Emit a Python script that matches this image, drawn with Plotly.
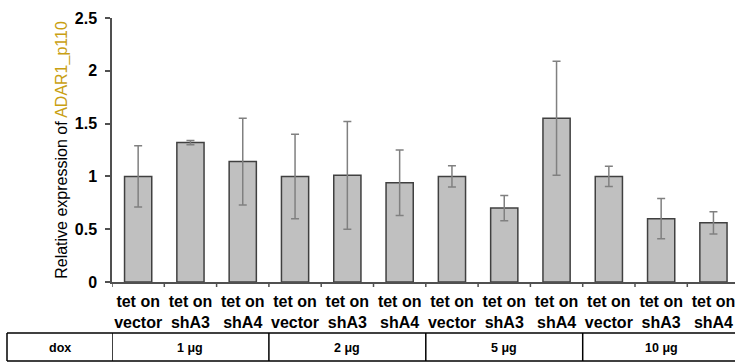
import plotly.graph_objects as go

categories = ["tet on<br>vector", "tet on<br>shA3", "tet on<br>shA4"] * 4
values = [1.00, 1.32, 1.14, 1.00, 1.01, 0.94, 1.00, 0.70, 1.55, 1.00, 0.60, 0.56]
errors = [0.29, 0.02, 0.41, 0.40, 0.51, 0.31, 0.10, 0.12, 0.54, 0.095, 0.19, 0.105]
dox_labels = ["1 μg", "2 μg", "5 μg", "10 μg"]
y_ticks = [0, 0.5, 1, 1.5, 2, 2.5]

W, H = 735, 363
L, T, B = 112, 18, 81
plot_w = W - L
plot_h = H - T - B
cat_px = 52.3
x_end = -0.5 + plot_w / cat_px

def py(pix):
    return (H - B - pix) / plot_h

fig = go.Figure()
fig.add_trace(go.Bar(
    x=list(range(12)), y=values,
    width=0.52,
    marker=dict(color="#c0c0c0", line=dict(color="#404040", width=1.5)),
    error_y=dict(type="data", array=errors, visible=True, color="#808080", thickness=1.5, width=4),
))

fig.update_layout(
    width=W, height=H,
    margin=dict(l=L, r=0, t=T, b=B),
    plot_bgcolor="white", paper_bgcolor="white",
    showlegend=False,
    font=dict(family="Liberation Sans, Arial", color="black"),
    xaxis=dict(
        range=[-0.5, x_end], tickmode="array", tickvals=list(range(12)), ticktext=categories,
        showline=True, linecolor="#505050", linewidth=1.5, ticks="", showgrid=False, zeroline=False,
        ticklabelstandoff=4, ticklabeloverflow="allow",
        tickfont=dict(size=16, family="Liberation Sans, Arial", color="black", weight="bold"),
    ),
    yaxis=dict(
        range=[0, 2.5], tickvals=y_ticks, ticktext=["0", "0.5", "1", "1.5", "2", "2.5"],
        showline=True, linecolor="#505050", linewidth=1.5, ticks="outside", ticklen=5, tickwidth=1.5,
        tickcolor="#505050", showgrid=False, zeroline=False, ticklabelstandoff=5,
        tickfont=dict(size=16, family="Liberation Sans, Arial", color="black", weight="bold"),
        title=dict(text="Relative expression of <span style='color:#C9A012'>ADAR1_p110</span>",
                   font=dict(size=16, family="Liberation Sans, Arial", color="black"), standoff=3),
    ),
)

shapes = []
# x-axis boundary ticks
for k in range(13):
    xb = k - 0.5
    if xb <= x_end:
        shapes.append(dict(type="line", xref="x", yref="paper", x0=xb, x1=xb, y0=0, y1=py(287),
                           line=dict(color="#505050", width=1.5)))
# table lines
x_left_paper = (7 - L) / plot_w
for ypix in (333, 361):
    shapes.append(dict(type="line", xref="paper", yref="paper", x0=x_left_paper, x1=1.0,
                       y0=py(ypix), y1=py(ypix), line=dict(color="black", width=1.5)))
shapes.append(dict(type="line", xref="paper", yref="paper", x0=x_left_paper, x1=x_left_paper,
                   y0=py(333), y1=py(361), line=dict(color="black", width=1.5)))
for g in range(5):
    xb = g * 3 - 0.5
    if xb <= x_end:
        shapes.append(dict(type="line", xref="x", yref="paper", x0=xb, x1=xb,
                           y0=py(333), y1=py(361), line=dict(color="black", width=1.5)))
fig.update_layout(shapes=shapes)

annots = [dict(text="dox", xref="paper", yref="paper", x=(60 - L) / plot_w, y=py(348),
               xanchor="center", yanchor="middle",
               showarrow=False, font=dict(size=12.5, weight="bold", color="black"))]
for g, lab in enumerate(dox_labels):
    annots.append(dict(text=lab, xref="x", yref="paper", x=g * 3 + 1, y=py(348),
                       xanchor="center", yanchor="middle",
                       showarrow=False, font=dict(size=12.5, weight="bold", color="black")))
fig.update_layout(annotations=annots)

fig.write_html("out.html")
